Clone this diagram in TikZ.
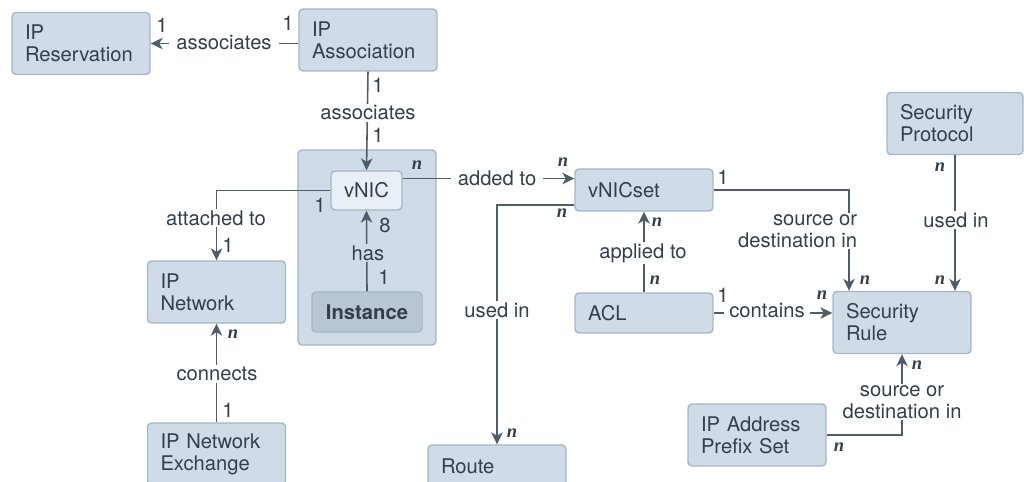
\documentclass[tikz,border=0pt]{standalone}
\usepackage{fontspec}
\setmainfont{TeX Gyre Heros}
\newfontfamily\mulfont{Liberation Serif}
\usetikzlibrary{arrows.meta}

\definecolor{boxfill}{HTML}{CFDBE6}
\definecolor{boxline}{HTML}{A5B6C5}
\definecolor{ink}{HTML}{33404C}
\definecolor{wire}{HTML}{4E5D6B}
\definecolor{nicfill}{HTML}{E8EFF5}
\definecolor{instfill}{HTML}{B8C6D2}

\newcommand{\mn}{{\mulfont\bfseries\itshape n}}

\begin{document}
\begin{tikzpicture}[
    x=0.02cm, y=-0.02cm,
    >={Stealth[length=2.4mm, width=2.3mm, inset=0.7mm]},
    font=\fontsize{11.5}{12.5}\selectfont,
    every node/.style={text=ink},
    entity/.style={draw=boxline, fill=boxfill, rounded corners=0.08cm, line width=0.8pt,
        minimum width=2.76cm, minimum height=1.24cm, text width=2.24cm, inner xsep=0.26cm, align=left},
    flat/.style={entity, minimum height=0.84cm},
    arrow/.style={->, draw=wire, line width=0.9pt},
    lbl/.style={fill=white, inner xsep=4pt, inner ysep=1pt, align=center},
    card/.style={inner sep=0pt},
    mult/.style={inner sep=0pt, font=\fontsize{10.5}{10.5}\selectfont}
]
  \useasboundingbox (0,0) rectangle (1024,481);

  % Entities
  \node[entity] (ipres) at (81,43.5) {IP\\Reservation};
  \node[entity] (ipassoc) at (368,40) {IP\\Association};
  \node[draw=boxline, fill=boxfill, rounded corners=0.08cm, line width=0.8pt,
        minimum width=2.76cm, minimum height=3.9cm] (vnicgrp) at (367,247.5) {};
  \node[draw=boxline, fill=nicfill, rounded corners=0.08cm, line width=0.8pt,
        minimum width=1.42cm, minimum height=0.78cm, inner sep=0pt] (vnic) at (366.5,190.5) {vNIC};
  \node[draw=boxline, fill=instfill, rounded corners=0.08cm, line width=0.8pt,
        minimum width=2.2cm, minimum height=0.8cm, inner sep=0pt, font=\fontsize{11.5}{12.5}\selectfont\bfseries] (inst) at (367,312) {Instance};
  \node[entity] (ipnet) at (216.5,292) {IP\\Network};
  \node[entity] (ipnetx) at (216.5,454) {IP Network\\Exchange};
  \node[flat] (route) at (497,466) {Route};
  \node[flat] (vnicset) at (644,190) {vNICset};
  \node[flat, minimum height=0.8cm] (acl) at (644,313) {ACL};
  \node[entity] (secrule) at (902,322.5) {Security\\Rule};
  \node[entity, minimum width=2.72cm, text width=2.2cm] (secproto) at (955,123.5) {Security\\Protocol};
  \node[entity] (ipaps) at (757,435) {IP Address\\Prefix Set};

  % Connectors
  \draw[arrow] (ipres.east -| ipassoc.west) -- (ipres.east);
  \draw[arrow] (ipassoc.south) -- (vnic.north);
  \draw[arrow] (vnic.west) -| (ipnet.north);
  \draw[arrow] (inst.north) -- (vnic.south);
  \draw[arrow] (ipnetx.north) -- (ipnet.south);
  \draw[arrow] ([yshift=0.24cm]vnic.east) -- ([yshift=0.24cm]vnic.east -| vnicset.west);
  \draw[arrow] ([yshift=-0.3cm]vnicset.west) -| (route.north);
  \draw[arrow] (acl.north) -- (vnicset.south);
  \draw[arrow] (vnicset.east) -| ([xshift=-1.06cm]secrule.north);
  \draw[arrow] (secproto.south) -- (secproto.south |- secrule.north);
  \draw[arrow] (acl.east) -- (acl.east -| secrule.west);
  \draw[arrow] (ipaps.east) -| (secrule.south);

  % Labels
  \node[lbl] (assoc1) at (224,43) {associates};
  \node[lbl] (assoc2) at (368,113) {associates};
  \node[lbl] (attach) at (216,218) {attached to};
  \node[lbl, fill=boxfill, inner xsep=2pt] (has) at (368,253) {has};
  \node[lbl] (conn) at (217,374) {connects};
  \node[lbl] (added) at (497,178) {added to};
  \node[lbl] (usedin1) at (497,310) {used in};
  \node[lbl] (applied) at (643,253) {applied to};
  \node[lbl, inner xsep=3pt] (contains) at (767,311) {contains};
  \node[lbl, align=right, anchor=east, inner xsep=2pt] (srcdst1) at (861,231) {source or\\destination in};
  \node[lbl] (usedin2) at (956,220) {used in};
  \node[lbl] (srcdst2) at (902,402) {source or\\destination in};

  % Multiplicities
  \node[card] (c1) at (162,25) {1};
  \node[card] (c2) at (288,23) {1};
  \node[card] (c3) at (378,85) {1};
  \node[card] (c4) at (378,135) {1};
  \node[card] (c5) at (320,205) {1};
  \node[card] (c6) at (228,245) {1};
  \node[card] (c7) at (385,225) {8};
  \node[card] (c8) at (384,277) {1};
  \node[card] (c9) at (228,410) {1};
  \node[card] (c10) at (723,177) {1};
  \node[card] (c11) at (723,295) {1};
  \node[mult] (m1) at (417,165) {\mn};
  \node[mult] (m2) at (563,162) {\mn};
  \node[mult] (m3) at (562,213) {\mn};
  \node[mult] (m4) at (512,433) {\mn};
  \node[mult] (m5) at (657,222) {\mn};
  \node[mult] (m6) at (655,280) {\mn};
  \node[mult] (m7) at (233,334) {\mn};
  \node[mult] (m8) at (865,280) {\mn};
  \node[mult] (m9) at (940,280) {\mn};
  \node[mult] (m10) at (940,167) {\mn};
  \node[mult] (m11) at (822,295) {\mn};
  \node[mult] (m12) at (917,365) {\mn};
  \node[mult] (m13) at (839,447) {\mn};
\end{tikzpicture}
\end{document}
